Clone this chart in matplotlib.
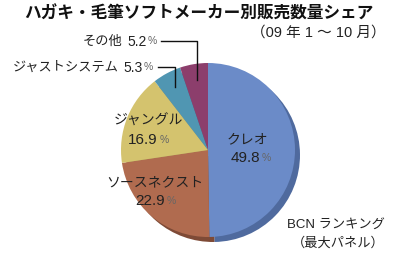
import matplotlib.pyplot as plt

plt.rcParams['font.family'] = ['Noto Sans CJK JP', 'DejaVu Sans']
NUMFONT = ['Liberation Sans', 'Noto Sans CJK JP']

# data
makers = ["クレオ", "ソースネクスト", "ジャングル", "ジャストシステム", "その他"]
shares = [49.8, 22.9, 16.9, 5.3, 5.2]
colors = ["#6B8BC8", "#B06B4F", "#D4C36E", "#5096B2", "#8C3E6C"]
shadow_colors = ["#4F6A9E", "#7E4A36", "#A8985A", "#3F7690", "#6B2F52"]

title = "ハガキ・毛筆ソフトメーカー別販売数量シェア"
subtitle = "（09 年 1 ～ 10 月）"
source = ["BCN ランキング", "（最大パネル）"]

W, H = 400, 256
fig = plt.figure(figsize=(4, 2.56), dpi=100)
ax = fig.add_axes([0, 0, 1, 1])

cx, cy, r = 208, H - 150, 87

# shadow pie, shifted right/down
ax.pie(shares, colors=shadow_colors, startangle=90, counterclock=False,
       center=(cx + 5, cy - 5), radius=r, frame=True,
       wedgeprops=dict(linewidth=0))
ax.pie(shares, colors=colors, startangle=90, counterclock=False,
       center=(cx, cy), radius=r, frame=True,
       wedgeprops=dict(linewidth=0))

ax.set_xlim(0, W)
ax.set_ylim(0, H)
ax.set_aspect('equal')
ax.axis('off')

tc = "#222222"


def value(x, y, v):
    # number centred at x, small grey % after it
    t = ax.text(x, H - y, f"{v}", fontsize=11, color=tc, ha='center', va='center',
                family=NUMFONT)
    ax.annotate("%", xy=(1, 0.12), xycoords=t, xytext=(1.5, 0),
                textcoords='offset points', fontsize=7.5, color="#666666",
                va='bottom', ha='left', family=NUMFONT)


def side_label(xend, y, name, v):
    # right end of the % sign at xend
    p = ax.text(xend, H - y, "%", fontsize=7.5, color="#666666", ha='right',
                va='center', family=NUMFONT)
    t = ax.annotate(f"{v}", xy=(0, 0.5), xycoords=p, xytext=(-1, -0.5),
                    textcoords='offset points', fontsize=10, color=tc,
                    ha='right', va='center', family=NUMFONT)
    ax.annotate(name, xy=(0, 0.5), xycoords=t, xytext=(-3, 0.5),
                textcoords='offset points', fontsize=9.5, color=tc,
                ha='right', va='center')


ax.text(24, H - 14, title, fontsize=12, fontweight='bold', color="#111111",
        ha='left', va='center')
ax.text(386, H - 33, subtitle, fontsize=10.5, color=tc, ha='right', va='center',
        family=NUMFONT)

# inside labels
ax.text(247, H - 139, makers[0], fontsize=10, color=tc, ha='center', va='center')
value(245, 158, shares[0])
ax.text(155, H - 182, makers[1], fontsize=10, color=tc, ha='center', va='center')
value(150, 201, shares[1])
ax.text(148, H - 121, makers[2], fontsize=10, color=tc, ha='center', va='center')
value(143, 140, shares[2])

# outside labels with leader lines
side_label(153, 67, makers[3], shares[3])
ax.plot([158, 175, 175], [H - 67, H - 67, H - 87], color="#111111", lw=1)

side_label(157, 41, makers[4], shares[4])
ax.plot([161, 197, 197], [H - 41, H - 41, H - 80], color="#111111", lw=1)

ax.text(385, H - 225, source[0], fontsize=9.5, color=tc, ha='right', va='center',
        family=NUMFONT)
ax.text(385, H - 243, source[1], fontsize=9.5, color=tc, ha='right', va='center')

fig.savefig("out.png", dpi=100, facecolor="white")
